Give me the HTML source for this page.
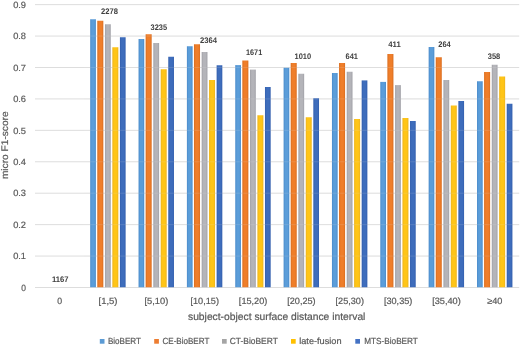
<!DOCTYPE html>
<html><head><meta charset="utf-8"><title>chart</title>
<style>
html,body{margin:0;padding:0;background:#fff}
svg text{font-family:"Liberation Sans","DejaVu Sans",sans-serif;text-rendering:geometricPrecision}
.t{font-size:9.1px;fill:#595959;stroke:#595959;stroke-width:0.2px}
.l{font-size:8.9px;fill:#595959;stroke:#595959;stroke-width:0.2px}
.a{font-size:10.3px;fill:#595959;stroke:#595959;stroke-width:0.2px}
.y{font-size:9.6px;fill:#595959;stroke:#595959;stroke-width:0.2px}
.b{font-size:8.1px;font-weight:bold;fill:#404040}
</style></head><body>
<svg width="520" height="345" viewBox="0 0 520 345" style="display:block;will-change:transform">
<rect width="520" height="345" fill="#fff"/>
<defs>
<linearGradient id="g0" x1="0" y1="0" x2="1" y2="0"><stop offset="0" stop-color="#4a8bcb"/><stop offset="0.3" stop-color="#5b9dd9"/><stop offset="0.7" stop-color="#5b9dd9"/><stop offset="1" stop-color="#4a8bcb"/></linearGradient>
<linearGradient id="g1" x1="0" y1="0" x2="1" y2="0"><stop offset="0" stop-color="#da6e20"/><stop offset="0.3" stop-color="#ef7e2a"/><stop offset="0.7" stop-color="#ef7e2a"/><stop offset="1" stop-color="#da6e20"/></linearGradient>
<linearGradient id="g2" x1="0" y1="0" x2="1" y2="0"><stop offset="0" stop-color="#a1a1a7"/><stop offset="0.3" stop-color="#b4b4b9"/><stop offset="0.7" stop-color="#b4b4b9"/><stop offset="1" stop-color="#a1a1a7"/></linearGradient>
<linearGradient id="g3" x1="0" y1="0" x2="1" y2="0"><stop offset="0" stop-color="#edb41e"/><stop offset="0.3" stop-color="#ffc517"/><stop offset="0.7" stop-color="#ffc517"/><stop offset="1" stop-color="#edb41e"/></linearGradient>
<linearGradient id="g4" x1="0" y1="0" x2="1" y2="0"><stop offset="0" stop-color="#335fae"/><stop offset="0.3" stop-color="#3e6dbc"/><stop offset="0.7" stop-color="#3e6dbc"/><stop offset="1" stop-color="#335fae"/></linearGradient>
</defs>
<line x1="35" x2="519.2" y1="287.50" y2="287.50" stroke="#d9d9d9" stroke-width="0.9"/>
<text x="21.35" y="290.75" class="t" textLength="4.7" lengthAdjust="spacingAndGlyphs">0</text>
<line x1="35" x2="519.2" y1="256.07" y2="256.07" stroke="#d9d9d9" stroke-width="0.9"/>
<text x="13.15" y="259.32" class="t" textLength="12.9" lengthAdjust="spacingAndGlyphs">0.1</text>
<line x1="35" x2="519.2" y1="224.64" y2="224.64" stroke="#d9d9d9" stroke-width="0.9"/>
<text x="13.15" y="227.89" class="t" textLength="12.9" lengthAdjust="spacingAndGlyphs">0.2</text>
<line x1="35" x2="519.2" y1="193.21" y2="193.21" stroke="#d9d9d9" stroke-width="0.9"/>
<text x="13.15" y="196.46" class="t" textLength="12.9" lengthAdjust="spacingAndGlyphs">0.3</text>
<line x1="35" x2="519.2" y1="161.78" y2="161.78" stroke="#d9d9d9" stroke-width="0.9"/>
<text x="13.15" y="165.03" class="t" textLength="12.9" lengthAdjust="spacingAndGlyphs">0.4</text>
<line x1="35" x2="519.2" y1="130.35" y2="130.35" stroke="#d9d9d9" stroke-width="0.9"/>
<text x="13.15" y="133.60" class="t" textLength="12.9" lengthAdjust="spacingAndGlyphs">0.5</text>
<line x1="35" x2="519.2" y1="98.92" y2="98.92" stroke="#d9d9d9" stroke-width="0.9"/>
<text x="13.15" y="102.17" class="t" textLength="12.9" lengthAdjust="spacingAndGlyphs">0.6</text>
<line x1="35" x2="519.2" y1="67.49" y2="67.49" stroke="#d9d9d9" stroke-width="0.9"/>
<text x="13.15" y="70.74" class="t" textLength="12.9" lengthAdjust="spacingAndGlyphs">0.7</text>
<line x1="35" x2="519.2" y1="36.06" y2="36.06" stroke="#d9d9d9" stroke-width="0.9"/>
<text x="13.15" y="39.31" class="t" textLength="12.9" lengthAdjust="spacingAndGlyphs">0.8</text>
<line x1="35" x2="519.2" y1="4.63" y2="4.63" stroke="#d9d9d9" stroke-width="0.9"/>
<text x="13.15" y="7.88" class="t" textLength="12.9" lengthAdjust="spacingAndGlyphs">0.9</text>
<rect x="90.20" y="19.25" width="5.70" height="268.00" fill="url(#g0)"/>
<rect x="97.28" y="20.75" width="6.05" height="266.50" fill="url(#g1)"/>
<rect x="104.96" y="24.25" width="5.80" height="263.00" fill="url(#g2)"/>
<rect x="112.34" y="47.25" width="6.00" height="240.00" fill="url(#g3)"/>
<rect x="119.92" y="37.25" width="5.70" height="250.00" fill="url(#g4)"/>
<rect x="138.55" y="39" width="5.70" height="248.25" fill="url(#g0)"/>
<rect x="145.63" y="34.25" width="6.05" height="253.00" fill="url(#g1)"/>
<rect x="153.31" y="43" width="5.80" height="244.25" fill="url(#g2)"/>
<rect x="160.69" y="69.25" width="6.00" height="218.00" fill="url(#g3)"/>
<rect x="168.27" y="56.75" width="5.70" height="230.50" fill="url(#g4)"/>
<rect x="186.90" y="46.25" width="5.70" height="241.00" fill="url(#g0)"/>
<rect x="193.98" y="44.25" width="6.05" height="243.00" fill="url(#g1)"/>
<rect x="201.66" y="52" width="5.80" height="235.25" fill="url(#g2)"/>
<rect x="209.04" y="80" width="6.00" height="207.25" fill="url(#g3)"/>
<rect x="216.62" y="65.25" width="5.70" height="222.00" fill="url(#g4)"/>
<rect x="235.25" y="65.1" width="5.70" height="222.15" fill="url(#g0)"/>
<rect x="242.33" y="60.5" width="6.05" height="226.75" fill="url(#g1)"/>
<rect x="250.01" y="69.6" width="5.80" height="217.65" fill="url(#g2)"/>
<rect x="257.39" y="115.25" width="6.00" height="172.00" fill="url(#g3)"/>
<rect x="264.97" y="87" width="5.70" height="200.25" fill="url(#g4)"/>
<rect x="283.60" y="67.75" width="5.70" height="219.50" fill="url(#g0)"/>
<rect x="290.68" y="63" width="6.05" height="224.25" fill="url(#g1)"/>
<rect x="298.36" y="73.75" width="5.80" height="213.50" fill="url(#g2)"/>
<rect x="305.74" y="117.25" width="6.00" height="170.00" fill="url(#g3)"/>
<rect x="313.32" y="98.25" width="5.70" height="189.00" fill="url(#g4)"/>
<rect x="331.95" y="73" width="5.70" height="214.25" fill="url(#g0)"/>
<rect x="339.03" y="63" width="6.05" height="224.25" fill="url(#g1)"/>
<rect x="346.71" y="71.75" width="5.80" height="215.50" fill="url(#g2)"/>
<rect x="354.09" y="119" width="6.00" height="168.25" fill="url(#g3)"/>
<rect x="361.67" y="80.4" width="5.70" height="206.85" fill="url(#g4)"/>
<rect x="380.30" y="81.9" width="5.70" height="205.35" fill="url(#g0)"/>
<rect x="387.38" y="54" width="6.05" height="233.25" fill="url(#g1)"/>
<rect x="395.06" y="85.1" width="5.80" height="202.15" fill="url(#g2)"/>
<rect x="402.44" y="118" width="6.00" height="169.25" fill="url(#g3)"/>
<rect x="410.02" y="121" width="5.70" height="166.25" fill="url(#g4)"/>
<rect x="428.65" y="47" width="5.70" height="240.25" fill="url(#g0)"/>
<rect x="435.73" y="57.25" width="6.05" height="230.00" fill="url(#g1)"/>
<rect x="443.41" y="80" width="5.80" height="207.25" fill="url(#g2)"/>
<rect x="450.79" y="105.5" width="6.00" height="181.75" fill="url(#g3)"/>
<rect x="458.37" y="101" width="5.70" height="186.25" fill="url(#g4)"/>
<rect x="477.00" y="81.25" width="5.70" height="206.00" fill="url(#g0)"/>
<rect x="484.08" y="72" width="6.05" height="215.25" fill="url(#g1)"/>
<rect x="491.76" y="64.75" width="5.80" height="222.50" fill="url(#g2)"/>
<rect x="499.14" y="76.5" width="6.00" height="210.75" fill="url(#g3)"/>
<rect x="506.72" y="103.75" width="5.70" height="183.50" fill="url(#g4)"/>
<line x1="83.85" x2="519" y1="256.07" y2="256.07" stroke="#e6e6e6" stroke-width="0.8" opacity="0.18"/>
<line x1="83.85" x2="519" y1="224.64" y2="224.64" stroke="#e6e6e6" stroke-width="0.8" opacity="0.18"/>
<line x1="83.85" x2="519" y1="193.21" y2="193.21" stroke="#e6e6e6" stroke-width="0.8" opacity="0.18"/>
<line x1="83.85" x2="519" y1="161.78" y2="161.78" stroke="#e6e6e6" stroke-width="0.8" opacity="0.18"/>
<line x1="83.85" x2="519" y1="130.35" y2="130.35" stroke="#e6e6e6" stroke-width="0.8" opacity="0.18"/>
<line x1="83.85" x2="519" y1="98.92" y2="98.92" stroke="#e6e6e6" stroke-width="0.8" opacity="0.18"/>
<line x1="83.85" x2="519" y1="67.49" y2="67.49" stroke="#e6e6e6" stroke-width="0.8" opacity="0.18"/>
<line x1="83.85" x2="519" y1="36.06" y2="36.06" stroke="#e6e6e6" stroke-width="0.8" opacity="0.18"/>
<text x="52" y="282" class="b" textLength="16.6" lengthAdjust="spacingAndGlyphs">1167</text>
<text x="101" y="14.05" class="b" textLength="16.9" lengthAdjust="spacingAndGlyphs">2278</text>
<text x="150.6" y="30.2" class="b" textLength="16.5" lengthAdjust="spacingAndGlyphs">3235</text>
<text x="200" y="42.75" class="b" textLength="17" lengthAdjust="spacingAndGlyphs">2364</text>
<text x="246" y="55.25" class="b" textLength="16.2" lengthAdjust="spacingAndGlyphs">1671</text>
<text x="294.5" y="58.9" class="b" textLength="16.6" lengthAdjust="spacingAndGlyphs">1010</text>
<text x="345.5" y="59" class="b" textLength="12.5" lengthAdjust="spacingAndGlyphs">641</text>
<text x="388.25" y="47.25" class="b" textLength="12.5" lengthAdjust="spacingAndGlyphs">411</text>
<text x="438.25" y="47" class="b" textLength="12.5" lengthAdjust="spacingAndGlyphs">264</text>
<text x="487.75" y="59" class="b" textLength="12.5" lengthAdjust="spacingAndGlyphs">358</text>
<text x="57.25" y="303.85" class="t" textLength="4.85" lengthAdjust="spacingAndGlyphs">0</text>
<text x="98.53" y="303.85" class="t" textLength="19" lengthAdjust="spacingAndGlyphs">[1,5)</text>
<text x="144.50" y="303.85" class="t" textLength="23.75" lengthAdjust="spacingAndGlyphs">[5,10)</text>
<text x="190.53" y="303.85" class="t" textLength="28.4" lengthAdjust="spacingAndGlyphs">[10,15)</text>
<text x="238.88" y="303.85" class="t" textLength="28.4" lengthAdjust="spacingAndGlyphs">[15,20)</text>
<text x="287.23" y="303.85" class="t" textLength="28.4" lengthAdjust="spacingAndGlyphs">[20,25)</text>
<text x="335.58" y="303.85" class="t" textLength="28.4" lengthAdjust="spacingAndGlyphs">[25,30)</text>
<text x="383.93" y="303.85" class="t" textLength="28.4" lengthAdjust="spacingAndGlyphs">[30,35)</text>
<text x="432.18" y="303.85" class="t" textLength="28.6" lengthAdjust="spacingAndGlyphs">[35,40)</text>
<text x="487.22" y="303.85" class="t" textLength="15.2" lengthAdjust="spacingAndGlyphs">≥40</text>
<text x="188" y="320.2" class="a" textLength="177.4" lengthAdjust="spacingAndGlyphs">subject-object surface distance interval</text>
<text transform="translate(8.45,179.1) rotate(-90)" class="y" textLength="67.7" lengthAdjust="spacingAndGlyphs">micro F1-score</text>
<rect x="99.8" y="339" width="4.7" height="4.7" fill="#5b9bd5"/>
<text x="107.9" y="344" class="l" textLength="33.0" lengthAdjust="spacingAndGlyphs">BioBERT</text>
<rect x="154.2" y="339" width="4.7" height="4.7" fill="#ed7d31"/>
<text x="162.5" y="344" class="l" textLength="46.8" lengthAdjust="spacingAndGlyphs">CE-BioBERT</text>
<rect x="222" y="339" width="4.7" height="4.7" fill="#a5a5a5"/>
<text x="229.8" y="344" class="l" textLength="48.0" lengthAdjust="spacingAndGlyphs">CT-BioBERT</text>
<rect x="291" y="339" width="4.7" height="4.7" fill="#ffc000"/>
<text x="299.2" y="344" class="l" textLength="42.4" lengthAdjust="spacingAndGlyphs">late-fusion</text>
<rect x="355.3" y="339" width="4.7" height="4.7" fill="#4472c4"/>
<text x="364.2" y="344" class="l" textLength="53.7" lengthAdjust="spacingAndGlyphs">MTS-BioBERT</text>
</svg>
</body></html>
